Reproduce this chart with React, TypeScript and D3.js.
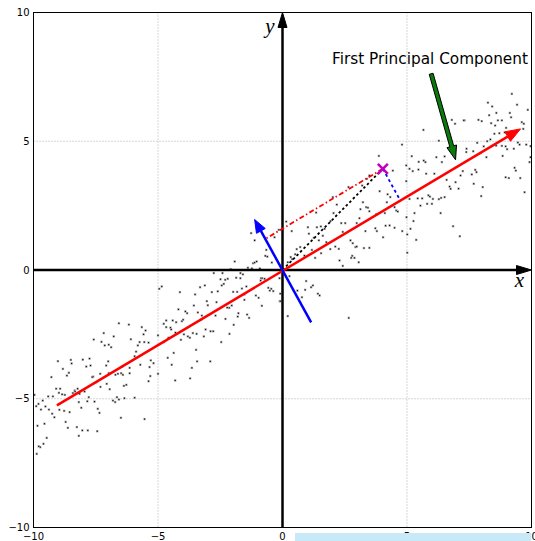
import React from 'react';
import * as d3 from 'd3';

const W = 535;
const H = 541;

// axis ticks and grid
const tickValues = [-10, -5, 0, 5, 10];
const tickLabels = ['−10', '−5', '0', '5', '10'];
const gridValues = [-5, 5];

// scattered samples [x, y]
const samples: [number, number][] = [
  [-6.57, -2.07], [-6.17, -2.12], [-5.65, -2.22], [-5.5, -2.35], [-5.58, -2.5], [-5.0, -2.54],
  [-7.18, -2.45], [-6.78, -2.58], [-7.58, -2.7], [-7.27, -2.79], [-7.14, -2.93], [-6.98, -2.9],
  [-6.88, -3.0], [-6.09, -2.69], [-5.74, -2.8], [-5.55, -2.8], [-5.38, -2.82], [-5.81, -2.93],
  [-5.88, -3.17], [-5.94, -3.35], [-5.29, -3.51], [-5.18, -3.62], [-5.71, -3.68], [-5.34, -3.77],
  [-6.14, -3.8], [-6.44, -3.75], [-9.02, -3.54], [-8.5, -3.49], [-8.47, -3.63], [-8.82, -3.84],
  [-8.02, -3.48], [-7.75, -3.44], [-7.71, -3.71], [-7.88, -3.75], [-7.0, -3.55], [-7.08, -3.71],
  [-8.58, -3.99], [-8.66, -4.1], [-9.28, -4.16], [-7.6, -4.14], [-7.64, -4.16], [-7.32, -4.03],
  [-6.98, -4.01], [-6.71, -4.07], [-6.61, -4.03], [-6.48, -4.01], [-6.14, -4.01], [-6.41, -4.07],
  [-5.31, -4.12], [-5.38, -4.32], [-5.0, -4.03], [-7.06, -4.42], [-7.48, -4.36], [-7.31, -4.54],
  [-6.94, -4.63], [-6.37, -4.5], [-6.27, -4.46], [-8.23, -4.61], [-8.35, -4.68], [-8.33, -4.72],
  [-8.42, -4.78], [-9.09, -4.61], [-8.93, -4.61], [-8.98, -4.77], [-8.85, -4.83], [-8.74, -4.85],
  [-7.95, -4.72], [-8.15, -4.81], [-9.96, -4.85], [-9.41, -4.91], [-9.22, -4.91], [-7.78, -4.94],
  [-6.65, -4.94], [-6.57, -5.03], [-6.35, -4.98], [-5.94, -4.96], [-6.81, -5.07], [-6.72, -5.13],
  [-8.18, -5.13], [-7.84, -5.1], [-7.55, -5.11], [-9.63, -5.07], [-9.8, -5.2], [-9.89, -5.29],
  [-9.7, -5.42], [-9.52, -5.3], [-9.38, -5.42], [-9.25, -5.58], [-9.16, -5.72], [-8.96, -5.43],
  [-8.77, -5.47], [-8.55, -5.52], [-8.08, -5.35], [-7.42, -5.39], [-7.35, -5.55], [-6.49, -5.74],
  [-5.54, -5.79], [-9.84, -6.05], [-9.56, -5.97], [-8.71, -5.9], [-8.62, -6.13], [-8.26, -6.1],
  [-8.04, -6.23], [-7.82, -6.23], [-7.44, -6.26], [-8.18, -6.44], [-9.47, -6.52], [-9.6, -6.75],
  [-9.73, -6.88], [-9.87, -7.14], [-9.79, -6.85],
  [-1.26, 1.43], [-1.12, 1.15], [-0.65, 0.78], [-0.69, 0.55], [-0.61, 0.52], [-0.43, 0.29],
  [-1.92, 0.33], [-1.18, 0.26], [-1.12, 0.29], [-1.04, 0.33], [-1.39, 0.09], [-1.23, 0.06],
  [-0.91, 0.06], [-2.08, 0.03], [-2.76, -0.12], [-2.41, -0.12], [-1.69, -0.12], [-1.59, -0.17],
  [-1.86, -0.3], [-1.69, -0.32], [-2.2, -0.34], [-2.3, -0.38], [-2.49, -0.36], [-0.86, -0.32],
  [-0.72, -0.34], [-0.12, -0.32], [-4.95, -0.73], [-4.85, -0.64], [-4.12, -0.86], [-3.51, -0.95],
  [-3.31, -0.67], [-3.12, -0.6], [-2.84, -0.86], [-2.6, -0.83], [-2.44, -0.6], [-2.36, -0.54],
  [-1.98, -0.85], [-1.82, -0.85], [-1.63, -0.72], [-1.53, -0.95], [-1.45, -0.64], [-0.88, -0.41],
  [-0.82, -0.32], [-0.57, -0.69], [-0.45, -0.73], [-0.37, -0.82], [-0.51, -0.8], [-1.07, -0.99],
  [-0.96, -1.08], [-0.11, -1.21], [-1.53, -1.16], [-0.83, -1.39], [-2.65, -1.25], [-3.04, -1.21],
  [-3.0, -1.37], [-3.56, -1.38], [-2.04, -1.38], [-2.14, -1.47], [-2.22, -1.46], [-4.18, -1.53],
  [-3.9, -1.61], [-3.83, -1.68], [-3.4, -1.65], [-2.69, -1.77], [-3.24, -1.77], [-1.77, -1.68],
  [-1.42, -1.73], [-1.34, -1.86], [-1.8, -1.81], [-2.29, -1.9], [-3.99, -1.93], [-4.04, -1.99],
  [-4.41, -1.96], [-4.27, -2.03], [-4.67, -1.96], [-4.77, -2.09], [-3.27, -1.93], [-1.96, -2.13],
  [-4.67, -2.22], [-4.5, -2.24], [-4.47, -2.31], [-4.3, -2.43], [-3.96, -2.5], [-3.8, -2.58],
  [-3.72, -2.63], [-4.08, -2.71], [-3.6, -2.45], [-3.45, -2.48], [-3.09, -2.31], [-2.89, -2.38],
  [-2.78, -2.38], [-3.16, -2.58], [-2.13, -2.48], [-2.46, -2.8], [-4.58, -2.63], [-4.77, -2.8],
  [-3.47, -3.1], [-4.37, -3.22], [-4.61, -3.41], [-4.45, -3.68], [-3.43, -3.55], [-2.9, -3.55],
  [-3.64, -3.8], [-3.71, -4.21], [-4.31, -4.29], [-0.15, 1.56], [-0.32, 1.27],
  [3.87, 4.43], [4.43, 3.86], [4.97, 4.06], [4.97, 3.45], [3.49, 3.67], [3.39, 3.54],
  [3.2, 3.28], [2.65, 3.22], [3.9, 3.06], [4.22, 2.94], [4.33, 2.83], [4.19, 2.63],
  [4.5, 2.44], [4.57, 2.31], [4.63, 2.27], [3.23, 2.63], [3.36, 2.44], [3.43, 2.42],
  [3.49, 2.28], [3.13, 2.36], [3.76, 2.16], [4.11, 2.21], [2.02, 2.83], [2.18, 2.54],
  [2.05, 2.21], [1.93, 1.9], [1.35, 2.23], [0.15, 1.88], [0.37, 1.51], [1.02, 1.66],
  [1.06, 1.41], [1.38, 1.66], [1.54, 1.69], [1.69, 1.6], [1.26, 1.25], [1.62, 1.33],
  [1.46, 1.15], [1.76, 1.08], [2.36, 1.82], [2.52, 1.82], [2.42, 1.48], [2.98, 1.82],
  [3.09, 2.01], [3.33, 1.51], [3.73, 1.62], [3.79, 1.51], [4.14, 1.72], [4.3, 1.73],
  [4.5, 1.64], [4.81, 1.51], [4.04, 1.27], [2.73, 1.15], [2.82, 1.04], [2.93, 0.89],
  [2.98, 0.91], [3.27, 0.85], [3.49, 0.86], [2.12, 0.91], [1.92, 0.81], [2.26, 0.82],
  [1.55, 0.65], [1.31, 0.47], [1.18, 0.78], [0.88, 0.56], [0.57, 0.81], [0.51, 0.61],
  [0.71, 0.89], [0.33, 0.5], [0.39, 0.42], [0.21, 0.3], [2.8, 0.55], [2.89, 0.47],
  [3.06, 0.3], [2.29, 0.37], [2.42, 0.16], [2.76, 0.47], [5.01, 0.67], [0.28, -0.24],
  [0.95, -0.43], [1.22, -0.6], [0.6, -0.8], [0.91, -0.77], [0.78, -1.06], [1.42, -0.92],
  [1.49, -0.99], [0.21, -1.79], [2.66, -1.86], [-0.09, -0.92], [-0.09, -1.21], [1.15, -0.67],
  [9.21, 6.84], [9.42, 6.42], [8.25, 6.5], [8.42, 6.35], [8.59, 6.1], [9.13, 6.1],
  [9.18, 5.93], [8.3, 6.01], [7.87, 5.83], [8.0, 5.78], [8.38, 5.7], [8.65, 5.81],
  [8.81, 5.81], [8.54, 5.61], [8.98, 5.52], [9.61, 5.74], [9.69, 5.68], [9.67, 5.48],
  [6.8, 5.83], [6.93, 5.68], [7.31, 5.81], [5.66, 5.44], [8.51, 5.29], [8.71, 5.31],
  [8.92, 5.34], [8.22, 5.0], [8.35, 5.07], [9.45, 4.95], [9.52, 4.87], [9.96, 4.81],
  [6.28, 5.02], [7.82, 4.94], [7.66, 4.61], [7.39, 4.71], [7.38, 4.58], [8.08, 4.8],
  [8.19, 4.38], [8.58, 4.83], [8.81, 4.82], [9.02, 4.69], [8.96, 4.8], [8.84, 4.43],
  [9.29, 4.71], [9.96, 4.38], [9.92, 4.19], [7.95, 4.54], [5.19, 4.42], [5.47, 4.2],
  [5.67, 4.25], [5.74, 4.19], [6.18, 4.38], [6.51, 4.41], [6.4, 4.19], [5.1, 3.93],
  [5.23, 3.84], [5.46, 3.9], [5.77, 3.74], [6.1, 3.74], [6.59, 3.5], [7.24, 3.84],
  [7.74, 3.89], [7.79, 3.8], [7.6, 3.71], [7.15, 3.67], [9.32, 3.97], [9.37, 3.86],
  [8.96, 3.6], [9.09, 3.57], [9.55, 3.57], [9.72, 3.02], [7.68, 3.35], [6.71, 3.24],
  [6.75, 3.15], [7.07, 3.16], [8.04, 3.22], [7.98, 2.87], [6.95, 3.41], [6.28, 2.75],
  [6.37, 2.8], [6.51, 2.83], [5.86, 2.9], [5.92, 2.85], [5.81, 2.57], [6.0, 2.57],
  [6.04, 2.76], [5.61, 2.78], [5.43, 2.78], [5.1, 2.76], [5.54, 2.5], [6.35, 2.21],
  [5.3, 2.21], [4.98, 2.05], [5.26, 1.9], [5.14, 1.6], [5.01, 1.38], [6.85, 1.7],
  [7.12, 1.31], [5.37, 1.17], [9.85, 6.22], [4.8, 4.87], [7.28, 5.81], [9.79, 4.87],
];

// principal directions and the projected sample
const pc1Arrow = { from: [-9.06, -5.26], to: [9.56, 5.48] };
const pc2Arrow = { from: [1.15, -2.03], to: [-1.12, 1.96] };
const samplePoint = [4.03, 3.93];
const pc1Foot = [4.72, 2.72];
const pc2Foot = [-0.7, 1.2];
const noteText = 'First Principal Component';
const noteArrow = { from: [5.97, 7.62], to: [6.95, 4.28] };

const left = 33.5, right = 531.5, top = 12.5, bottom = 527.5;

function headPoints(x1: number, y1: number, x2: number, y2: number, len: number, wid: number) {
  const dx = x2 - x1, dy = y2 - y1;
  const d = Math.hypot(dx, dy);
  const ux = dx / d, uy = dy / d;
  const nx = -uy, ny = ux;
  const bx = x2 - ux * len, by = y2 - uy * len;
  return {
    base: [bx, by],
    pts: [[x2, y2], [bx + nx * wid / 2, by + ny * wid / 2], [bx - nx * wid / 2, by - ny * wid / 2]]
      .map(p => p.join(',')).join(' '),
  };
}

function fancyArrow(x1: number, y1: number, x2: number, y2: number, sw: number, hw: number, hl: number) {
  const dx = x2 - x1, dy = y2 - y1;
  const d = Math.hypot(dx, dy);
  const ux = dx / d, uy = dy / d;
  const nx = -uy, ny = ux;
  const bx = x2 - ux * hl, by = y2 - uy * hl;
  const p = [
    [x1 + nx * sw / 2, y1 + ny * sw / 2],
    [bx + nx * sw / 2, by + ny * sw / 2],
    [bx + nx * hw / 2, by + ny * hw / 2],
    [x2, y2],
    [bx - nx * hw / 2, by - ny * hw / 2],
    [bx - nx * sw / 2, by - ny * sw / 2],
    [x1 - nx * sw / 2, y1 - ny * sw / 2],
  ];
  return p.map(q => q.join(',')).join(' ');
}

function Arrow({ from, to, color, width, len, wid }: any) {
  const h = headPoints(from[0], from[1], to[0], to[1], len, wid);
  return (
    <g>
      <line x1={from[0]} y1={from[1]} x2={h.base[0]} y2={h.base[1]} stroke={color} strokeWidth={width} />
      <polygon points={h.pts} fill={color} stroke={color} strokeWidth={1} strokeLinejoin="miter" />
    </g>
  );
}

export default function App() {
  const x = d3.scaleLinear().domain([-10, 10]).range([left, right]);
  const y = d3.scaleLinear().domain([-10, 10]).range([bottom, top]);
  const P = (p: number[]) => [x(p[0]), y(p[1])];

  const sp = P(samplePoint);
  const na = fancyArrow(x(noteArrow.from[0]), y(noteArrow.from[1]), x(noteArrow.to[0]), y(noteArrow.to[1]), 4, 10, 14);
  const m = 5;

  return (
    <svg width={W} height={H} style={{ position: 'absolute', left: 0, top: 0, background: '#fff' }}
      fontFamily="'DejaVu Sans', sans-serif">
      <rect x={0} y={0} width={W} height={H} fill="#fff" />
      {gridValues.map(v => (
        <g key={v}>
          <line x1={x(v)} x2={x(v)} y1={top} y2={bottom} stroke="#9a9a9a" strokeWidth={0.8} strokeDasharray="1,2" />
          <line x1={left} x2={right} y1={y(v)} y2={y(v)} stroke="#9a9a9a" strokeWidth={0.8} strokeDasharray="1,2" />
        </g>
      ))}

      {samples.map((s, i) => (
        <g key={i}>
          <rect x={x(s[0]) - 1.2} y={y(s[1]) - 1.2} width={2.4} height={2.4} fill="#b0b0b0" />
          <rect x={x(s[0]) - 0.6} y={y(s[1]) - 0.6} width={1.2} height={1.2} fill="#111" />
        </g>
      ))}

      {/* coordinate axes through the origin */}
      <Arrow from={[x(-10), y(0)]} to={[x(10), y(0)]} color="#000" width={2.5} len={15} wid={9} />
      <Arrow from={[x(0), y(-10)]} to={[x(0), y(10)]} color="#000" width={2.5} len={15} wid={9} />

      <line x1={x(0)} y1={y(0)} x2={sp[0]} y2={sp[1]} stroke="#000" strokeWidth={1.8} strokeDasharray="2.5,2.5" />
      <line x1={sp[0]} y1={sp[1]} x2={P(pc2Foot)[0]} y2={P(pc2Foot)[1]} stroke="red" strokeWidth={1.8} strokeDasharray="5,2.5,1.5,2.5" />
      <line x1={sp[0]} y1={sp[1]} x2={P(pc1Foot)[0]} y2={P(pc1Foot)[1]} stroke="blue" strokeWidth={1.8} strokeDasharray="3,3" />

      <Arrow from={P(pc1Arrow.from)} to={P(pc1Arrow.to)} color="red" width={2.5} len={15} wid={11} />
      <Arrow from={P(pc2Arrow.from)} to={P(pc2Arrow.to)} color="blue" width={2.5} len={13} wid={10} />

      <g stroke="#bf00bf" strokeWidth={2.6}>
        <line x1={sp[0] - m} y1={sp[1] - m} x2={sp[0] + m} y2={sp[1] + m} />
        <line x1={sp[0] - m} y1={sp[1] + m} x2={sp[0] + m} y2={sp[1] - m} />
      </g>

      <polygon points={na} fill="#0a7a0a" stroke="#000" strokeWidth={1} strokeLinejoin="miter" />
      <text x={430} y={64} fontSize={15.3} textAnchor="middle" fill="#000">{noteText}</text>

      <rect x={left} y={top} width={right - left} height={bottom - top} fill="none" stroke="#000" strokeWidth={1} />

      {tickValues.map((v, i) => (
        <text key={'y' + v} x={left - 4} y={y(v)} dy="0.35em" fontSize={10} textAnchor="end" fill="#000">{tickLabels[i]}</text>
      ))}
      {tickValues.map((v, i) => (
        <text key={'x' + v} x={x(v)} y={bottom + 12} fontSize={10} textAnchor="middle" fill="#000">{tickLabels[i]}</text>
      ))}

      <text x={519.5} y={287} fontSize={21} fontStyle="italic" textAnchor="middle" fontFamily="'Liberation Serif', serif">x</text>
      <text x={270} y={33} fontSize={21} fontStyle="italic" textAnchor="middle" fontFamily="'Liberation Serif', serif">y</text>

      <rect x={295} y={533} width={236} height={8} fill="#c8e9f8" />
    </svg>
  );
}
